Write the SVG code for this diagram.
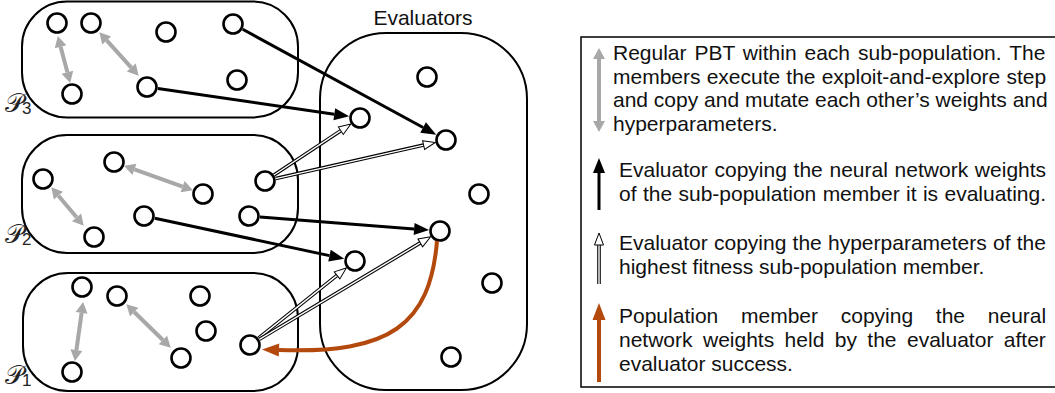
<svg xmlns="http://www.w3.org/2000/svg" width="1055" height="393" viewBox="0 0 1055 393">
<style>
.box{fill:none;stroke:#000;stroke-width:2}
.n{fill:#fff;stroke:#000;stroke-width:2.6}
.g{stroke:#a8a8a8;stroke-width:4;fill:none;marker-start:url(#mg);marker-end:url(#mg)}
.b{stroke:#000;stroke-width:3;fill:none;marker-end:url(#mb)}
.hb{stroke:#000;stroke-width:3.6;fill:none}
.hw{stroke:#fff;stroke-width:1.4;fill:none;marker-end:url(#mh)}
.o{stroke:#b4490e;stroke-width:4;fill:none;marker-end:url(#mo)}
.t{font-family:"Liberation Sans",Arial,sans-serif;font-size:21px;fill:#111}
.pl{font-family:"DejaVu Sans","Noto Sans",serif;font-size:26px;fill:#222}
.ps{font-family:"Liberation Sans",Arial,sans-serif;font-size:17px;fill:#222}
</style>
<defs>
<marker id="mg" markerUnits="userSpaceOnUse" markerWidth="12" markerHeight="12" refX="0" refY="6" orient="auto-start-reverse" overflow="visible"><path d="M0,0 L11,6 L0,12 z" fill="#a8a8a8"/></marker>
<marker id="mb" markerUnits="userSpaceOnUse" markerWidth="16" markerHeight="12" refX="0" refY="6" orient="auto" overflow="visible"><path d="M0,0 L15,6 L0,12 z" fill="#000"/></marker>
<marker id="mh" markerUnits="userSpaceOnUse" markerWidth="13" markerHeight="10" refX="0" refY="5" orient="auto" overflow="visible"><path d="M0,0.5 L12,5 L0,9.5 z" fill="#fff" stroke="#000" stroke-width="1"/></marker>
<marker id="mo" markerUnits="userSpaceOnUse" markerWidth="18" markerHeight="14" refX="0" refY="7" orient="auto" overflow="visible"><path d="M0,0.5 L17,7 L0,13.5 z" fill="#b4490e"/></marker>
</defs>

<g id="P3">
<rect class="box" x="22" y="1.5" width="276" height="116" rx="45" ry="45"/>
<text class="pl" x="5" y="112">𝒫<tspan class="ps" dx="-2" dy="2">3</tspan></text>
<circle class="n" cx="57" cy="23" r="9.5"/>
<circle class="n" cx="91" cy="23" r="9.5"/>
<circle class="n" cx="166" cy="32" r="9.5"/>
<circle class="n" cx="233" cy="24" r="9.5"/>
<circle class="n" cx="72" cy="94" r="9.5"/>
<circle class="n" cx="147" cy="87" r="9.5"/>
<circle class="n" cx="237" cy="80" r="9.5"/>
</g>
<g id="P2">
<rect class="box" x="22" y="135" width="276" height="118" rx="45" ry="45"/>
<text class="pl" x="5" y="243">𝒫<tspan class="ps" dx="-2" dy="2">2</tspan></text>
<circle class="n" cx="43" cy="179" r="9.5"/>
<circle class="n" cx="114" cy="162" r="9.5"/>
<circle class="n" cx="203" cy="194" r="9.5"/>
<circle class="n" cx="265" cy="181" r="9.5"/>
<circle class="n" cx="144" cy="216" r="9.5"/>
<circle class="n" cx="249" cy="216" r="9.5"/>
<circle class="n" cx="94" cy="237" r="9.5"/>
</g>
<g id="P1">
<rect class="box" x="23" y="273" width="275" height="118" rx="45" ry="45"/>
<text class="pl" x="5" y="384">𝒫<tspan class="ps" dx="-2" dy="2">1</tspan></text>
<circle class="n" cx="82" cy="287" r="9.5"/>
<circle class="n" cx="117" cy="296" r="9.5"/>
<circle class="n" cx="200" cy="296" r="9.5"/>
<circle class="n" cx="206" cy="331" r="9.5"/>
<circle class="n" cx="181" cy="358" r="9.5"/>
<circle class="n" cx="250" cy="345" r="9.5"/>
<circle class="n" cx="72" cy="372" r="9.5"/>
</g>
<g id="evaluators">
<rect class="box" x="320" y="33" width="207" height="357" rx="66" ry="66"/>
<text class="t" x="423" y="25" text-anchor="middle" font-size="20">Evaluators</text>
<circle class="n" cx="427" cy="77" r="9.5"/>
<circle class="n" cx="360" cy="118" r="9.5"/>
<circle class="n" cx="446" cy="140" r="9.5"/>
<circle class="n" cx="479" cy="194" r="9.5"/>
<circle class="n" cx="440" cy="231" r="9.5"/>
<circle class="n" cx="355" cy="261" r="9.5"/>
<circle class="n" cx="492" cy="283" r="9.5"/>
<circle class="n" cx="451" cy="357" r="9.5"/>
</g>

<g id="connectors">
<path class="g" d="M60.6,46.7 L67.4,72.3"/>
<path class="g" d="M106.7,40.4 L131.3,67.6"/>
<path class="g" d="M58.4,195.7 L76.6,217.3"/>
<path class="g" d="M134.4,169.4 L182.6,186.6"/>
<path class="g" d="M81.6,312.9 L76.4,350.1"/>
<path class="g" d="M134.2,312 L162.9,340"/>
<path class="b" d="M242.7,29.3 L423.1,127.5"/>
<path class="b" d="M157.9,88.6 L334.3,114.2"/>
<path class="b" d="M260,216.9 L414.1,228.9"/>
<path class="b" d="M154.8,218.3 L329.5,255.6"/>
<path class="hb" d="M274,175 L340.8,130.7"/>
<path class="hw" d="M274,175 L340.8,130.7"/>
<path class="hb" d="M275.7,178.6 L423.6,145.1"/>
<path class="hw" d="M275.7,178.6 L423.6,145.1"/>
<path class="hb" d="M258.6,338.1 L337,275.4"/>
<path class="hw" d="M258.6,338.1 L337,275.4"/>
<path class="hb" d="M259.4,339.3 L420.3,242.9"/>
<path class="hw" d="M259.4,339.3 L420.3,242.9"/>
<path class="o" d="M437,241 C430,325 390,354 279,350"/>
</g>

<g id="legend">
<rect x="581" y="37" width="480" height="350" fill="none" stroke="#000" stroke-width="1.5"/>
<path class="g" d="M599,59 L599,121"/>
<path class="b" d="M599,210 L599,173"/>
<path class="hb" d="M599,284 L599,245"/>
<path class="hw" d="M599,284 L599,245"/>
<path class="o" d="M599,382 L599,320"/>
<text class="t" x="613" y="60" word-spacing="2.1">Regular PBT within each sub-population. The</text>
<text class="t" x="613" y="83.5" word-spacing="0.3">members execute the exploit-and-explore step</text>
<text class="t" x="613" y="107">and copy and mutate each other’s weights and</text>
<text class="t" x="613" y="130.5">hyperparameters.</text>
<text class="t" x="619" y="177" word-spacing="0.9">Evaluator copying the neural network weights</text>
<text class="t" x="619" y="201" word-spacing="0.55">of the sub-population member it is evaluating.</text>
<text class="t" x="619" y="250" word-spacing="0.4">Evaluator copying the hyperparameters of the</text>
<text class="t" x="619" y="274">highest fitness sub-population member.</text>
<text class="t" x="619" y="323" word-spacing="16.9">Population member copying the neural</text>
<text class="t" x="619" y="347" word-spacing="4.6">network weights held by the evaluator after</text>
<text class="t" x="619" y="371">evaluator success.</text>
</g>
</svg>
